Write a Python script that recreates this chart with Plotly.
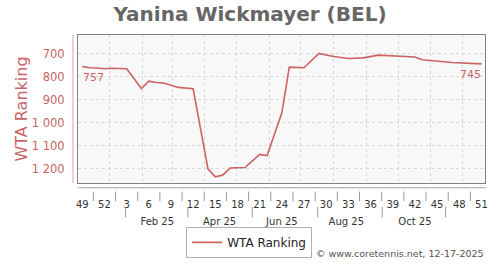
import plotly.graph_objects as go
from datetime import datetime

# ---- data ----
dates = ["2024-12-06", "2024-12-13", "2024-12-20", "2024-12-27", "2025-01-03",
         "2025-01-10", "2025-01-17", "2025-01-31", "2025-02-07", "2025-02-14",
         "2025-02-21", "2025-03-07", "2025-03-21", "2025-04-04", "2025-04-11",
         "2025-04-18", "2025-04-25", "2025-05-09", "2025-05-23", "2025-05-30",
         "2025-06-13", "2025-06-20", "2025-07-04", "2025-07-18", "2025-08-01",
         "2025-08-15", "2025-08-29", "2025-09-12", "2025-10-17", "2025-10-24",
         "2025-11-14", "2025-11-21", "2025-12-19"]
ranks = [757, 762, 763, 766, 764,
         764, 766, 852, 820, 826,
         828, 847, 853, 1200, 1234,
         1227, 1196, 1194, 1137, 1142,
         957, 759, 762, 700, 713,
         722, 719, 707, 715, 727,
         735, 739, 745]

week_tick_dates = ["2024-12-06", "2024-12-27", "2025-01-17", "2025-02-07", "2025-02-28",
                   "2025-03-21", "2025-04-11", "2025-05-02", "2025-05-23", "2025-06-13",
                   "2025-07-04", "2025-07-25", "2025-08-15", "2025-09-05", "2025-09-26",
                   "2025-10-17", "2025-11-07", "2025-11-28", "2025-12-19"]
week_tick_labels = ["49", "52", "3", "6", "9", "12", "15", "18", "21", "24",
                    "27", "30", "33", "36", "39", "42", "45", "48", "51"]

month_label_dates = ["2025-02-15", "2025-04-15", "2025-06-13", "2025-08-13", "2025-10-17"]
month_labels = ["Feb 25", "Apr 25", "Jun 25", "Aug 25", "Oct 25"]
month_sep_dates = ["2025-01-16", "2025-03-16", "2025-05-16", "2025-07-17", "2025-09-16", "2025-11-15"]

y_tick_vals = [700, 800, 900, 1000, 1100, 1200]
y_tick_text = ["700", "800", "900", "1 000", "1 100", "1 200"]

# ---- style ----
RED = "#cc6262"
LABEL_RED = "#c86464"
FONT = "DejaVu Sans"
x_range = ["2024-12-01 23:00", "2025-12-22 08:00"]
y_range = [1261, 620]

fig = go.Figure()

fig.add_trace(go.Scatter(
    x=dates, y=ranks, mode="lines", name="WTA Ranking",
    line=dict(color=RED, width=1.6), hoverinfo="x+y"))

# invisible traces to carry the label axes
fig.add_trace(go.Scatter(x=[dates[0]], y=[ranks[0]], xaxis="x2", mode="markers",
                         marker=dict(opacity=0), showlegend=False, hoverinfo="skip"))
fig.add_trace(go.Scatter(x=[dates[0]], y=[ranks[0]], xaxis="x3", mode="markers",
                         marker=dict(opacity=0), showlegend=False, hoverinfo="skip"))

# first / last value labels
fig.add_annotation(x=dates[0], y=ranks[0], xref="x", yref="y", text=str(ranks[0]),
                   showarrow=False, xanchor="left", yanchor="top", yshift=-2, xshift=-1,
                   font=dict(family=FONT, size=11, color=LABEL_RED))
fig.add_annotation(x=dates[-1], y=ranks[-1], xref="x", yref="y", text=str(ranks[-1]),
                   showarrow=False, xanchor="right", yanchor="top", yshift=-2, xshift=2,
                   font=dict(family=FONT, size=11, color=LABEL_RED))

fig.update_layout(
    width=500, height=270,
    margin=dict(l=78, r=13, t=35, b=80),
    paper_bgcolor="white",
    plot_bgcolor="#f8f8f8",
    font=dict(family=FONT, size=10, color="#333"),
    title=dict(text="<b>Yanina Wickmayer (BEL)</b>", x=0.5, xanchor="center",
               y=1 - 13.5 / 270, yanchor="middle", yref="container",
               font=dict(family=FONT, size=20, color="#666")),
    xaxis=dict(type="date", range=x_range, showgrid=True, gridcolor="#d8d8d8",
               griddash="3px,3px", gridwidth=1, dtick="M1", tick0="2025-01-01",
               showticklabels=False, ticks="", showline=True, linecolor="#808080",
               linewidth=1, mirror=True, zeroline=False),
    xaxis2=dict(type="date", overlaying="x", anchor="y", side="bottom", range=x_range,
                matches="x", tickmode="array", tickvals=week_tick_dates,
                ticktext=week_tick_labels, showgrid=False, ticks="", showline=False,
                ticklabelstandoff=14, tickfont=dict(family=FONT, size=10, color="#333")),
    xaxis3=dict(type="date", overlaying="x", anchor="y", side="bottom", range=x_range,
                matches="x", tickmode="array", tickvals=month_label_dates,
                ticktext=month_labels, showgrid=False, ticks="", showline=False,
                ticklabelstandoff=31, tickfont=dict(family=FONT, size=10, color="#333")),
    yaxis=dict(range=y_range, tickmode="array", tickvals=y_tick_vals, ticktext=y_tick_text,
               showgrid=True, gridcolor="#d8d8d8", griddash="3px,3px", zeroline=False,
               ticks="", ticklabelstandoff=10, showline=True, linecolor="#808080",
               linewidth=1, mirror=True,
               tickfont=dict(family=FONT, size=11.5, color=LABEL_RED),
               title=dict(text="WTA Ranking", standoff=0,
                          font=dict(family=FONT, size=16, color=LABEL_RED))),
    legend=dict(orientation="h", x=(250 - 78) / 409, xanchor="center",
                y=(190 - 236) / 155, yanchor="top", bgcolor="white",
                bordercolor="#b0b0b0", borderwidth=1, itemwidth=30,
                font=dict(family=FONT, size=12, color="#222")),
    showlegend=True,
)

# axis decorations
fig.add_shape(type="line", xref="paper", yref="paper", x0=-5 / 409, x1=-5 / 409,
              y0=0, y1=1, line=dict(color="#dca0a0", width=1))
fig.add_shape(type="line", xref="paper", yref="paper", x0=0, x1=410 / 409,
              y0=-5 / 155, y1=-5 / 155, line=dict(color="#a0a0a0", width=1))

# separators between week labels
fmt = "%Y-%m-%d"
for a, b in zip(week_tick_dates[:-1], week_tick_dates[1:]):
    da, db = datetime.strptime(a, fmt), datetime.strptime(b, fmt)
    mid = (da + (db - da) / 2).strftime("%Y-%m-%d %H:%M")
    fig.add_shape(type="line", xref="x", yref="paper", x0=mid, x1=mid,
                  y0=(190 - 199) / 155, y1=(190 - 209) / 155,
                  line=dict(color="#999", width=1))
for d in month_sep_dates:
    fig.add_shape(type="line", xref="x", yref="paper", x0=d, x1=d,
                  y0=(190 - 215) / 155, y1=(190 - 226) / 155,
                  line=dict(color="#999", width=1))

fig.add_annotation(text="© www.coretennis.net, 12-17-2025", xref="paper", yref="paper",
                   x=410 / 409, xanchor="right", y=(190 - 264) / 155, yanchor="middle",
                   showarrow=False, font=dict(family=FONT, size=9.5, color="#555"))

fig.write_html("out.html")
